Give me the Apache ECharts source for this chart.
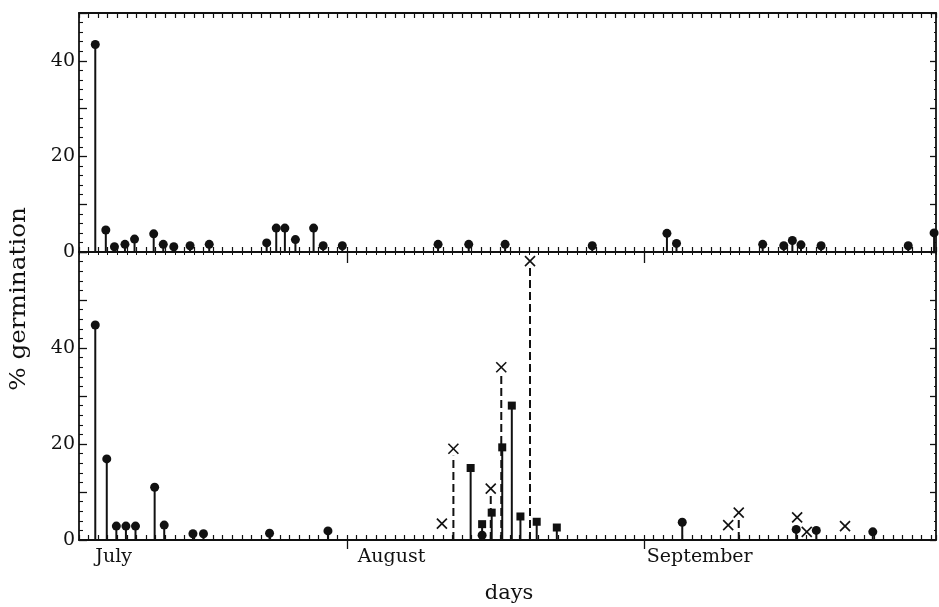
<!DOCTYPE html>
<html><head><meta charset="utf-8">
<script src="https://cdn.jsdelivr.net/npm/echarts@6/dist/echarts.min.js"></script>
<style>html,body{margin:0;padding:0;background:#fff}#c{width:939px;height:607px}</style>
</head><body><div id="c"></div>
<script>
// ---- data (day number: 1 = July 1, 32 = Aug 1, 63 = Sep 1) ----
const topDays   = [5.7, 6.8, 7.7, 8.8, 9.8, 11.8, 12.8, 13.9, 15.6, 17.6, 23.6, 24.6, 25.5, 26.6, 28.5, 29.5, 31.5, 41.5, 44.7, 48.5, 57.6, 65.4, 66.4, 75.4, 77.6, 78.5, 79.4, 81.5, 90.6, 93.3];
const topValues = [43.4, 4.6, 1.1, 1.6, 2.7, 3.8, 1.6, 1.1, 1.3, 1.6, 1.9, 5.0, 5.0, 2.6, 5.0, 1.3, 1.3, 1.6, 1.6, 1.6, 1.3, 3.9, 1.8, 1.6, 1.3, 2.4, 1.5, 1.3, 1.3, 4.0];

const botCircleDays   = [5.7, 6.9, 7.9, 8.9, 9.9, 11.9, 12.9, 15.9, 17.0, 23.9, 30.0, 46.1, 67.0, 78.9, 81.0, 86.9];
const botCircleValues = [44.8, 16.9, 2.9, 2.9, 2.9, 11.0, 3.1, 1.3, 1.3, 1.4, 1.9, 1.0, 3.7, 2.2, 2.0, 1.7];

const botSquareDays   = [44.9, 46.1, 47.1, 48.2, 49.2, 50.1, 51.8, 53.9];
const botSquareValues = [15.0, 3.3, 5.7, 19.3, 28.0, 4.9, 3.8, 2.6];

const botCrossDays   = [41.9, 43.1, 47.0, 48.1, 51.1, 71.8, 72.9, 79.0, 80.0, 84.0];
const botCrossValues = [3.4, 19.0, 10.7, 36.0, 58.1, 3.1, 5.7, 4.7, 1.7, 2.9];
const botCrossDashed = [0, 1, 1, 1, 1, 0, 1, 0, 0, 0];

const monthTickDays  = [32, 63];
const monthLabelDays = [5.7, 33.1, 63.3];
const monthNames     = ['July', 'August', 'September'];
const yTickLabels    = [0, 20, 40];

// ---- chart ----
const BLACK = '#111';
const FONT = 'DejaVu Serif';
const X_MIN = 4, X_MAX = 93.5;

function pairs(d, v) { return d.map((x, i) => [x, v[i]]); }

function dayAxis(gridIndex, position, extra) {
  return Object.assign({
    type: 'value', gridIndex, position, min: X_MIN, max: X_MAX, interval: 1,
    axisLine: { show: true, onZero: false, lineStyle: { color: BLACK, width: 1.8 } },
    axisTick: { show: true, inside: true, length: 5, lineStyle: { color: BLACK, width: 1.2 } },
    axisLabel: { show: false }, splitLine: { show: false }
  }, extra || {});
}
function yAx(gridIndex, position, max) {
  const left = position === 'left';
  return {
    type: 'value', gridIndex, position, min: 0, max, interval: 10,
    axisLine: { show: true, onZero: false, lineStyle: { color: BLACK, width: 1.8 } },
    axisTick: { show: true, inside: true, length: left ? 8 : 6, lineStyle: { color: BLACK, width: 1.3 } },
    minorTick: { show: true, splitNumber: 5, length: left ? 4 : 2, lineStyle: { color: BLACK, width: 1.1 } },
    axisLabel: left ? {
      show: true, margin: 4, color: BLACK, fontFamily: FONT, fontSize: 19,
      formatter: v => yTickLabels.includes(v) ? String(v) : ''
    } : { show: false },
    splitLine: { show: false }
  };
}
function stemSeries(xi, yi, data, dashed, gap) {
  return {
    type: 'custom', xAxisIndex: xi, yAxisIndex: yi, z: 2, silent: true, data,
    renderItem: (params, api) => {
      const a = api.coord([api.value(0), 0]);
      const b = api.coord([api.value(0), api.value(1)]);
      return { type: 'line', shape: { x1: a[0], y1: a[1], x2: b[0], y2: b[1] + gap },
        style: { stroke: BLACK, lineWidth: 2, lineDash: dashed ? [8, 4] : null } };
    }
  };
}
function dotSeries(xi, yi, data, symbol, size) {
  return { type: 'scatter', xAxisIndex: xi, yAxisIndex: yi, z: 4, silent: true, symbol, symbolSize: size,
    itemStyle: { color: BLACK, opacity: 1 }, clip: false, data };
}

const crossStemData = pairs(botCrossDays, botCrossValues).filter((p, i) => botCrossDashed[i]);

const option = {
  animation: false,
  backgroundColor: '#fff',
  grid: [
    { left: 79, right: 3, top: 13, height: 239, outerBoundsMode: 'none', containLabel: false },
    { left: 79, right: 3, top: 252, height: 288, outerBoundsMode: 'none', containLabel: false },
    { left: 79, right: 3, top: 252, height: 288, outerBoundsMode: 'none', containLabel: false }
  ],
  xAxis: [
    dayAxis(0, 'bottom'),
    dayAxis(0, 'top'),
    dayAxis(1, 'bottom'),
    dayAxis(1, 'top', {
      axisTick: { show: true, inside: true, length: 3, lineStyle: { color: BLACK, width: 1 } }
    }),
    dayAxis(2, 'bottom', {
      axisLine: { show: false },
      axisTick: { show: true, inside: false, length: 9, customValues: monthTickDays, lineStyle: { color: BLACK, width: 1.3 } },
      axisLabel: {
        show: true, customValues: monthLabelDays, align: 'left', margin: 8, color: BLACK,
        fontFamily: FONT, fontSize: 19,
        formatter: v => monthNames[monthLabelDays.indexOf(v)] || ''
      }
    }),
    dayAxis(2, 'top', {
      axisLine: { show: false },
      axisTick: { show: true, inside: true, length: 11, customValues: monthTickDays, lineStyle: { color: BLACK, width: 1.3 } },
      axisLabel: { show: true, customValues: monthTickDays, formatter: () => '' }
    })
  ],
  yAxis: [
    yAx(0, 'left', 50),
    yAx(0, 'right', 50),
    yAx(1, 'left', 60),
    yAx(1, 'right', 60),
    { type: 'value', gridIndex: 2, min: 0, max: 60, show: false }
  ],
  graphic: [
    { type: 'text', x: 19, y: 299, rotation: Math.PI / 2, scaleX: 1.12,
      style: { text: '% germination', fill: BLACK, font: '22px "DejaVu Serif"', textAlign: 'center', textVerticalAlign: 'middle' } },
    { type: 'text', x: 509, y: 594,
      style: { text: 'days', fill: BLACK, font: '21px "DejaVu Serif"', textAlign: 'center', textVerticalAlign: 'middle' } }
  ],
  series: [
    stemSeries(0, 0, pairs(topDays, topValues), false, 0),
    dotSeries(0, 0, pairs(topDays, topValues), 'circle', 9),
    stemSeries(2, 2, crossStemData, true, 7),
    stemSeries(2, 2, pairs(botCircleDays, botCircleValues), false, 0),
    stemSeries(2, 2, pairs(botSquareDays, botSquareValues), false, 0),
    dotSeries(2, 2, pairs(botCircleDays, botCircleValues), 'circle', 9),
    dotSeries(2, 2, pairs(botSquareDays, botSquareValues), 'rect', 8),
    {
      type: 'custom', xAxisIndex: 2, yAxisIndex: 2, z: 4, silent: true,
      data: pairs(botCrossDays, botCrossValues),
      renderItem: (params, api) => {
        const p = api.coord([api.value(0), api.value(1)]);
        const s = 5;
        return { type: 'group', children: [
          { type: 'line', shape: { x1: p[0] - s, y1: p[1] - s, x2: p[0] + s, y2: p[1] + s }, style: { stroke: BLACK, lineWidth: 1.6 } },
          { type: 'line', shape: { x1: p[0] - s, y1: p[1] + s, x2: p[0] + s, y2: p[1] - s }, style: { stroke: BLACK, lineWidth: 1.6 } }
        ] };
      }
    }
  ]
};
const chart = echarts.init(document.getElementById('c'));
chart.setOption(option);
</script>
</body></html>
